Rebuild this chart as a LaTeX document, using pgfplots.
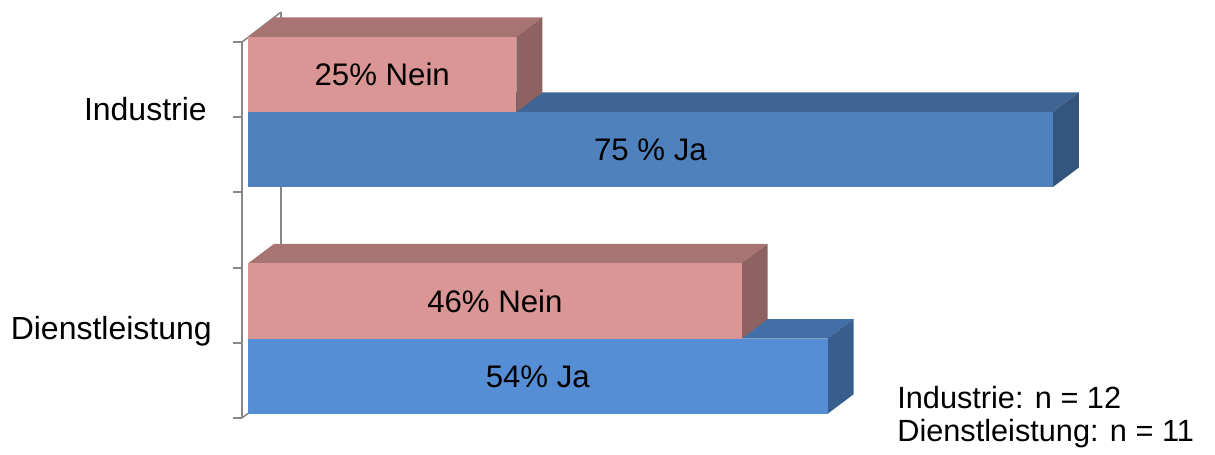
\documentclass[border=0pt]{standalone}
\usepackage{pgfplots}
\pgfplotsset{compat=1.18}
\usepackage{fontspec}
\setmainfont{Liberation Sans}
\newcommand\lab{\fontsize{15.6}{18}\selectfont}
\newcommand\cat{\fontsize{16}{18}\selectfont}
\newcommand\note{\fontsize{15.35}{18}\selectfont}
\definecolor{neinF}{HTML}{D99694}
\definecolor{neinT}{HTML}{A77472}
\definecolor{neinS}{HTML}{8D6260}
\definecolor{jaF}{HTML}{4F81BD}
\definecolor{jaT}{HTML}{3E6593}
\definecolor{jaS}{HTML}{34557D}
\definecolor{dlF}{HTML}{558ED5}
\definecolor{dlT}{HTML}{426FA6}
\definecolor{dlS}{HTML}{385E8D}
\definecolor{axgray}{HTML}{888888}
\def\dX{2.4225}
\def\dY{0.2593}
% #1 value, #2 y centre, #3 front, #4 top, #5 side, #6 label
\newcommand\threedbar[6]{%
  \pgfmathsetmacro\yb{#2-0.5}%
  \pgfmathsetmacro\yt{#2+0.5}%
  \pgfmathsetmacro\ytt{#2+0.5+\dY}%
  \pgfmathsetmacro\ybb{#2-0.5+\dY}%
  \pgfmathsetmacro\xe{#1+\dX}%
  \pgfmathsetmacro\xm{#1/2}%
  \pgfmathsetmacro\ylab{#2-0.148}%
  \edef\doit{%
    \noexpand\addplot[fill=#4,draw=none] coordinates {(0,\yt) (#1,\yt) (\xe,\ytt) (\dX,\ytt)};
    \noexpand\addplot[fill=#5,draw=none] coordinates {(#1,\yb) (#1,\yt) (\xe,\ytt) (\xe,\ybb)};
    \noexpand\addplot[fill=#3,draw=none] coordinates {(0,\yb) (#1,\yb) (#1,\yt) (0,\yt)};
    \noexpand\node[anchor=base,font=\noexpand\lab,inner sep=0pt] at (axis cs:\xm,\ylab) {\unexpanded{#6}};
  }\doit
}
\begin{document}
\begin{tikzpicture}
\begin{axis}[
  x=5.36667pt, y=37.6pt,
  xmin=-23.107, xmax=90.096, ymin=-0.492, ymax=5.559,
  scale only axis,
  axis line style={draw=none},
  xtick=\empty,
  ytick={1.04}, yticklabels={Dienstleistung},
  extra y ticks={3.96}, extra y tick labels={Industrie},
  extra y tick style={yticklabel style={xshift=-2.5pt}},
  major tick length=0pt,
  yticklabel style={anchor=base east, inner sep=0pt, xshift=106pt, font=\cat},
  clip=false,
  unbounded coords=jump,
]
% back wall and floor/top edges
\addplot[axgray, line width=0.8pt] coordinates {(3.075,5.399) (3.075,0.386)};
\addplot[axgray, line width=0.8pt] coordinates {(-0.559,5) (3.075,5.399)};
\addplot[axgray, line width=0.8pt] coordinates {(-0.559,0) (3.075,0.386)};
% front axis line and ticks
\addplot[axgray, line width=1pt] coordinates {(-0.559,0) (-0.559,5)};
\addplot[axgray, line width=1pt] coordinates {
 (-1.398,0) (-0.559,0) (nan,nan)
 (-1.398,1) (-0.559,1) (nan,nan)
 (-1.398,2) (-0.559,2) (nan,nan)
 (-1.398,3) (-0.559,3) (nan,nan)
 (-1.398,4) (-0.559,4) (nan,nan)
 (-1.398,5) (-0.559,5)};
% bars: Dienstleistung
\threedbar{54}{0.553}{dlF}{dlT}{dlS}{54\% Ja}
\threedbar{46}{1.556}{neinF}{neinT}{neinS}{46\% Nein}
% bars: Industrie
\threedbar{75}{3.570}{jaF}{jaT}{jaS}{75 \% Ja}
\threedbar{25}{4.568}{neinF}{neinT}{neinS}{25\% Nein}
\node[anchor=base west,font=\note,inner sep=0pt] at (axis cs:60.47,0.12) {Industrie: n = 12};
\node[anchor=base west,font=\note,inner sep=0pt] at (axis cs:60.47,-0.319) {Dienstleistung: n = 11};
\end{axis}
\end{tikzpicture}
\end{document}
